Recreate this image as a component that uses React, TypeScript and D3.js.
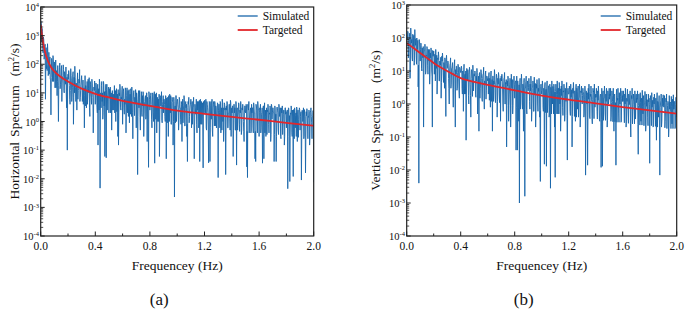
import React from "react";
import * as d3 from "d3";

// ---------- data ----------
const freqStep = 0.0025; // Hz, simulated spectra sampled at 0.0025, 0.0050, ... 2.0000 Hz

const simHorizontal = [
  3200, 2600, 600, 1800, 1400, 350, 250, 900, 700, 150, 180, 420, 500, 6, 90, 380, 70, 90, 60, 520, 250, 40, 50, 260, 45, 110, 180, 30, 30, 1.7, 35, 160, 140, 70, 25, 200, 150, 25, 60, 120,
  80, 15, 35, 140, 15, 60, 40, 8, 25, 90, 12, 1.0, 18, 45, 75, 110, 14, 20, 30, 70, 90, 5, 22, 38, 40, 95, 65, 12, 10, 55, 45, 30, 20, 80, 9, 3, 35, 0.1, 25, 45,
  30, 60, 45, 18, 6, 4, 12, 70, 40, 28, 5, 9, 15, 45, 55, 0.8, 7, 35, 10, 85, 35, 15, 5, 22, 18, 2.5, 25, 50, 6, 12, 14, 30, 22, 65, 5, 7, 12, 20, 28, 40,
  18, 5, 10, 28, 4, 12, 15, 0.6, 8, 40, 3.5, 18, 12, 3, 6, 25, 4, 9, 30, 14, 10, 34, 3, 1.5, 25, 20, 9, 7, 4, 30, 22, 11, 7, 0.4, 3.5, 16, 12, 26, 18, 4,
  12, 22, 16, 8, 3, 2, 20, 0.15, 9, 14, 2.5, 30, 22, 0.0047, 7, 10, 3, 18, 25, 5, 10, 1.2, 2, 25, 18, 3.5, 11, 0.06, 3, 12, 20, 0.054, 13, 20, 2.5, 7, 9, 15, 16, 2,
  14, 9, 7, 16, 2, 4, 10, 0.5, 5, 12, 2.5, 6, 9, 2.5, 4, 18, 2, 8, 12, 1, 6, 14, 2.2, 5, 9, 0.3, 13, 0.15, 2, 10, 8, 20, 15, 3, 2.5, 7, 6, 13, 17, 0.8,
  6, 11, 14, 3, 1.8, 6, 4, 15, 12, 0.4, 2, 8, 15, 2, 5, 12, 1.5, 5, 13, 0.9, 6, 9, 1.8, 14, 11, 1.5, 16, 6, 2, 0.25, 5, 10, 12, 4, 1.6, 7, 4, 13, 10, 0.6,
  10, 6, 5, 0.014, 1.5, 9, 12, 3, 7, 12, 1.4, 0.5, 4, 5, 11, 2, 1.5, 8, 3.5, 11, 9, 0.3, 1.3, 4, 5, 7, 8, 1.2, 1.5, 10, 10, 0.2, 7, 6, 1.2, 0.025, 11, 9, 6, 2.5,
  4, 8, 10, 4, 1.2, 0.6, 3, 10, 9, 2, 1, 6, 11, 0.035, 4, 9, 1.2, 3, 10, 0.4, 3, 7, 1, 5, 6, 1, 9, 0.06, 1.2, 8, 7, 3.5, 5, 11, 1.1, 0.9, 4, 5, 8, 2,
  6, 6, 4, 1.5, 1, 8, 7, 0.05, 6.5, 4, 0.9, 7, 6, 0.3, 8, 3, 1, 9, 6, 2, 8, 0.8, 0.8, 5, 7, 6, 4.5, 0.15, 1, 7, 5, 0.0023, 3, 3.5, 0.9, 8, 8, 1, 3.5, 5,
  6, 4, 3, 0.5, 0.9, 7, 6, 3, 3, 1.2, 0.8, 5, 4, 0.2, 2.5, 6, 0.9, 2.5, 3.5, 8, 6, 0.7, 0.7, 4, 5, 3, 4, 0.3, 0.8, 0.04, 3, 5, 4, 7, 0.9, 1.5, 2.5, 3.5, 4, 6,
  4, 0.6, 2.5, 5, 0.8, 3, 3.5, 7, 2, 0.05, 0.7, 4, 3, 1.8, 2.2, 6, 0.8, 0.4, 5, 2.5, 3, 5, 0.6, 1, 5.5, 0.04, 2.5, 6, 0.8, 3, 5, 0.8, 2.5, 4.5, 0.7, 0.024, 5, 3, 2, 5.5,
  4.5, 3, 2, 6, 0.6, 0.5, 5, 4, 3, 2, 0.7, 0.036, 2, 5, 4.5, 0.04, 0.6, 3.5, 5, 1.2, 2.5, 6, 0.5, 0.3, 3, 4, 5, 2.5, 0.7, 5, 4, 0.7, 3.5, 3, 0.6, 1.5, 2.5, 4.5, 4, 0.011,
  2.5, 4, 4, 2, 0.6, 5, 4.5, 0.4, 2, 3, 0.5, 6, 4.5, 1, 3, 0.2, 0.6, 4.5, 4, 2.5, 3, 0.014, 0.5, 3.5, 2.5, 5, 4, 0.6, 0.6, 2, 2, 4, 4, 1.3, 0.5, 5.5, 4.5, 0.3, 2.5, 3,
  2, 3.5, 3.5, 0.06, 0.5, 4, 4, 2, 3, 0.5, 0.5, 5, 4, 0.03, 2.5, 3, 0.5, 1.5, 2, 4.5, 4, 0.8, 0.45, 2.5, 2, 5, 3.5, 0.35, 0.5, 3, 2.5, 4, 3, 1, 0.45, 0.2, 2, 3.5, 3.5, 2,
  2.5, 4, 3.5, 0.026, 0.45, 0.011, 4, 3, 2.5, 5, 0.4, 1.2, 2, 2.5, 3, 0.4, 0.45, 4, 2, 3, 3, 0.7, 0.4, 4.5, 3.5, 2, 2, 0.05, 0.45, 0.04, 4, 3.5, 2.5, 1, 0.4, 5, 3.5, 2.5, 2.5, 0.3,
  2, 3, 2.5, 4, 0.4, 0.6, 1.8, 2, 3, 0.035, 0.35, 3.5, 3.5, 0.05, 2, 4.5, 0.4, 1.5, 2.5, 0.3, 1.8, 3, 0.35, 2.5, 2.2, 4, 3, 0.8, 0.4, 2, 1.8, 3.5, 3, 0.2, 0.35, 4, 3.5, 1.2, 2, 3,
  3, 2, 2, 0.04, 0.35, 3.5, 3, 1, 1.8, 0.04, 0.3, 3, 3.2, 2.5, 2, 0.5, 0.35, 4, 3, 1.5, 1.8, 3, 0.3, 0.25, 3, 2, 2, 3.5, 0.35, 0.8, 1.8, 2.5, 2.5, 0.15, 0.3, 3, 3, 1.8, 2.2, 0.6,
  1.8, 2.5, 2.5, 0.0045, 0.3, 3, 2.8, 1, 1.6, 0.008, 0.28, 2, 1.8, 3.5, 2.6, 0.4, 0.3, 2.5, 1.5, 0.012, 2.6, 1.5, 0.25, 3, 2.4, 0.6, 1.6, 2, 0.3, 3.2, 2.8, 0.2, 1.8, 2.5, 0.28, 1.2, 2, 3, 2.6, 0.5,
  1.5, 2, 2.2, 0.009, 0.28, 2.5, 2.4, 1, 1.4, 3, 0.25, 0.3, 2.6, 1.8, 1.5, 0.016, 0.28, 2.2, 1.6, 2.8, 2.3, 0.7, 0.25, 1.5, 1.4, 2.5, 2.2, 0.15, 0.28, 2, 2.4, 3, 1.5, 0.9, 0.25, 1.6, 1.7, 2.4, 2, 0.0075,
];

const simVertical = [
  120, 90, 160, 150, 25, 40, 80, 110, 140, 6, 20, 200, 110, 70, 90, 25, 20, 130, 60, 55, 120, 15, 18, 180, 75, 60, 95, 30, 16, 100, 55, 45, 85, 3.3, 15, 0.004, 90, 80, 50, 20,
  45, 70, 60, 12, 10, 50, 30, 25, 55, 0.2, 9, 40, 40, 65, 50, 8, 10, 30, 28, 55, 48, 15, 8, 45, 35, 20, 45, 4, 8, 35, 25, 50, 40, 10, 7, 0.2, 42, 28, 30, 40,
  25, 8, 32, 30, 5, 45, 18, 12, 30, 2, 5, 25, 22, 38, 28, 5, 5, 20, 16, 15, 26, 1.5, 4.5, 28, 20, 35, 24, 9, 4.5, 18, 15, 3, 25, 22, 4, 0.42, 22, 30, 17, 12,
  13, 20, 18, 6, 3, 1, 10, 15, 17, 25, 3, 4, 12, 12, 15, 18, 3, 0.8, 9, 10, 16, 22, 2.8, 0.2, 11, 8, 14, 14, 2.6, 3, 9, 16, 15, 6, 2.5, 1.5, 13, 12, 10, 9,
  9, 14, 12, 3, 2, 10, 7, 0.6, 11, 16, 2, 7, 8, 2, 10, 0.08, 2, 12, 6, 5, 11, 9, 1.8, 1, 8, 13, 10, 4, 1.8, 0.4, 6, 11, 10, 6, 1.7, 15, 9, 2.5, 7, 8,
  7, 10, 9, 2, 1.6, 7, 5, 12, 9, 0.5, 1.5, 5, 7, 0.15, 8, 9, 1.5, 3, 5, 11, 9, 6, 1.4, 1.2, 6, 8, 8, 13, 1.5, 0.7, 5, 4, 8, 10, 1.4, 2.5, 7, 7, 6, 5,
  6, 2, 7.5, 9, 1.3, 6, 4.5, 0.8, 7, 10, 1.2, 3, 5.5, 0.15, 7, 7, 1.2, 5, 4, 11, 7.5, 1.5, 1.1, 4, 5, 8, 6.5, 0.4, 1.2, 6, 4, 9, 7, 2, 1.1, 5, 6, 0.3, 5, 7,
  5, 8, 6, 3, 1, 0.6, 3.5, 6, 6, 9, 1, 1, 4.5, 4, 5.5, 0.05, 0.9, 5, 3.5, 7, 6, 0.3, 0.9, 2, 4, 6, 5.5, 0.2, 0.9, 8, 3.5, 3, 5.5, 0.5, 0.9, 5, 5, 7, 4, 1.5,
  4, 5, 5, 0.04, 0.8, 7, 3, 0.04, 5, 3, 0.8, 0.3, 3.8, 0.001, 4.5, 6, 0.7, 2, 3, 8, 5, 1, 0.7, 4, 3.5, 0.15, 4.5, 6, 0.7, 0.0016, 3, 3, 4.8, 7, 0.7, 0.5, 4, 5, 3.2, 2.5,
  3.2, 6, 4.2, 1.2, 0.7, 4, 2.5, 7, 4.2, 0.3, 0.6, 3, 3.2, 5, 3.8, 0.6, 0.6, 6.5, 2.5, 2, 4.2, 0.2, 0.6, 4, 3, 5.5, 3.8, 1, 0.6, 3, 2.4, 6, 4, 0.4, 0.6, 0.0045, 3.4, 4, 2.6, 2,
  2.8, 5, 3.6, 0.8, 0.6, 3, 2.2, 0.015, 3.5, 4.5, 0.55, 2, 2.8, 0.013, 3.3, 5, 0.55, 1.5, 2.1, 3.5, 3.6, 0.4, 0.5, 4, 2.6, 0.0028, 3.2, 2.5, 0.5, 5, 2, 1, 3.4, 3, 0.5, 4, 2.9, 0.2, 2.3, 0.006,
  2.4, 4, 3.1, 2, 0.5, 5, 1.9, 0.5, 3, 3, 0.5, 4.5, 2.4, 1, 2.9, 0.15, 0.48, 3.5, 1.8, 5, 3.1, 0.8, 0.45, 2.5, 2.3, 4, 2.8, 0.3, 0.45, 3, 1.8, 1.2, 3, 4.5, 0.45, 0.02, 2.5, 3, 2, 2,
  2.1, 3.5, 2.7, 0.6, 0.45, 4, 1.6, 2, 2.7, 0.05, 0.42, 3, 2.1, 4.5, 2.5, 1, 0.42, 2.5, 1.6, 0.3, 2.7, 4, 0.4, 3, 2, 0.7, 2.4, 3.5, 0.4, 1.5, 1.6, 4, 2.6, 0.2, 0.4, 2.5, 2.2, 3.5, 1.8, 1,
  1.8, 3, 2.4, 2, 0.4, 0.5, 1.4, 3.5, 2.4, 0.007, 0.38, 2.5, 1.8, 1, 2.2, 0.014, 0.38, 3, 1.4, 4, 2.4, 0.4, 0.36, 2, 1.7, 3.5, 2.1, 1.2, 0.36, 0.25, 1.4, 3, 2.3, 2.5, 0.36, 4, 1.9, 0.8, 1.5, 2,
  1.6, 3, 2.1, 0.6, 0.35, 2.5, 1.3, 3.5, 2.1, 1, 0.33, 0.3, 1.6, 2, 1.9, 0.012, 0.33, 3, 1.2, 0.013, 2.1, 2.5, 0.32, 1.5, 1.5, 3.5, 1.9, 0.5, 0.32, 2, 1.2, 3, 2, 0.2, 0.32, 2.5, 1.7, 1, 1.4, 3,
  1.4, 2, 1.8, 3, 0.3, 0.4, 1.1, 2.5, 1.8, 1.2, 0.29, 3, 1.4, 0.15, 1.7, 2, 0.29, 0.8, 1.1, 0.014, 1.8, 2.8, 0.28, 1.5, 1.3, 3, 1.6, 0.5, 0.28, 2.2, 1.1, 1, 1.7, 3, 0.28, 0.3, 1.5, 2.5, 1.2, 1.8,
  1.2, 2.5, 1.6, 0.7, 0.27, 2, 1, 3, 1.6, 0.2, 0.26, 1.5, 1.2, 2.8, 1.5, 0.5, 0.26, 2, 0.95, 1, 1.6, 2.5, 0.25, 0.1, 1.15, 1.8, 1.45, 3, 0.25, 0.6, 0.95, 2, 1.5, 1.2, 0.25, 2.5, 1.3, 0.35, 1.05, 2,
  1.1, 1.5, 1.4, 2.5, 0.24, 0.03, 0.9, 2, 1.4, 0.8, 0.23, 2.2, 1.1, 0.3, 1.3, 1.5, 0.23, 2.6, 0.85, 0.5, 1.4, 1.8, 0.22, 1, 1, 2.4, 1.3, 0.15, 0.22, 2, 0.85, 1.2, 1.35, 0.4, 0.22, 2, 1.15, 1.5, 0.95, 0.016,
  1, 1.8, 1.3, 0.5, 0.22, 2.2, 0.8, 1, 1.3, 0.2, 0.21, 1.6, 1, 2, 1.2, 0.6, 0.21, 1.5, 0.78, 0.08, 1.3, 2.2, 0.2, 1.2, 0.95, 0.4, 1.2, 1.8, 0.2, 0.007, 0.78, 1, 1.25, 2, 0.2, 0.3, 1.05, 1.5, 0.85, 1.9,
  0.9, 0.8, 1.15, 1.8, 0.19, 0.3, 0.7, 1.5, 1.15, 2, 0.18, 0.5, 0.9, 1.2, 1.1, 0.1, 0.18, 1.8, 0.7, 1, 1.15, 0.6, 0.18, 1.7, 0.85, 0.25, 1.05, 1.4, 0.18, 1.9, 0.7, 0.7, 1.1, 1.2, 0.18, 0.2, 0.95, 1.6, 0.75, 0.4,
];

const targetFreqH = [0, 0.01, 0.02, 0.03, 0.05, 0.075, 0.1, 0.15, 0.2, 0.3, 0.4, 0.5, 0.6, 0.7, 0.8, 0.9, 1.0, 1.2, 1.4, 1.6, 1.8, 2.0];
const targetH = [2400, 1000, 500, 290, 140, 80, 56, 35, 25, 14, 9.3, 6.9, 5.3, 4.3, 3.5, 2.9, 2.4, 1.85, 1.45, 1.15, 0.9, 0.71];

const targetFreqV = [0, 0.05, 0.1, 0.15, 0.2, 0.3, 0.4, 0.5, 0.6, 0.8, 1.0, 1.2, 1.4, 1.6, 1.8, 2.0];
const targetV = [70, 50, 35, 25, 17.5, 10, 6.1, 4.7, 3.8, 2.6, 1.8, 1.35, 1.05, 0.81, 0.64, 0.51];

const xTickValues = [0, 0.4, 0.8, 1.2, 1.6, 2.0];
const xMinorValues = [0.2, 0.6, 1.0, 1.4, 1.8];
const yExpH = [-4, -3, -2, -1, 0, 1, 2, 3, 4];
const yExpV = [-4, -3, -2, -1, 0, 1, 2, 3];

const seriesNames = ["Simulated", "Targeted"];
const panelLabels = ["(a)", "(b)"];
const yTitles = ["Horizontal", "Vertical"];

const BLUE = "#1a67aa";
const RED = "#e3262b";
const FONT = "'Liberation Serif', 'Times New Roman', Times, serif";

type PanelProps = {
  id: string;
  x0: number;
  x1: number;
  y0: number;
  y1: number;
  sim: number[];
  tFreq: number[];
  tVal: number[];
  exps: number[];
  yTitle: string;
  titleX: number;
  label: string;
};

function Panel(p: PanelProps) {
  const x = d3.scaleLinear().domain([0, 2]).range([p.x0, p.x1]);
  const minE = p.exps[0];
  const maxE = p.exps[p.exps.length - 1];
  const y = d3.scaleLog().domain([Math.pow(10, minE), Math.pow(10, maxE)]).range([p.y1, p.y0]);

  const simLine = d3
    .line<number>()
    .x((_, i) => x((i + 1) * freqStep))
    .y((v) => y(v));
  const tgtLine = d3
    .line<number>()
    .x((_, i) => x(p.tFreq[i]))
    .y((v) => y(v))
    .curve(d3.curveMonotoneX);

  const minor: number[] = [];
  for (let e = minE; e < maxE; e++) {
    for (let m = 2; m <= 9; m++) minor.push(m * Math.pow(10, e));
  }

  const cx = (p.x0 + p.x1) / 2;
  const cy = (p.y0 + p.y1) / 2;
  const lx = p.x1 - 76;

  return (
    <g style={{ fontFamily: FONT }}>
      <defs>
        <clipPath id={p.id}>
          <rect x={p.x0} y={p.y0} width={p.x1 - p.x0} height={p.y1 - p.y0} />
        </clipPath>
      </defs>
      <g clipPath={`url(#${p.id})`}>
        <path d={simLine(p.sim) || ""} fill="none" stroke={BLUE} strokeWidth={0.9} strokeLinejoin="round" />
        <path d={tgtLine(p.tVal) || ""} fill="none" stroke={RED} strokeWidth={1.8} />
      </g>
      <rect x={p.x0} y={p.y0} width={p.x1 - p.x0} height={p.y1 - p.y0} fill="none" stroke="#222" strokeWidth={1.2} />
      {/* y ticks */}
      {p.exps.map((e) => (
        <g key={"ye" + e}>
          <line x1={p.x0} x2={p.x0 + 4} y1={y(Math.pow(10, e))} y2={y(Math.pow(10, e))} stroke="#222" strokeWidth={1} />
          <text x={p.x0 - 1.8} y={y(Math.pow(10, e)) + 4} textAnchor="end" fontSize={10.5} fill="#111">
            10
            <tspan dy={-3.8} fontSize={6.5}>{e}</tspan>
          </text>
        </g>
      ))}
      {minor.map((v, i) => (
        <line key={"ym" + i} x1={p.x0} x2={p.x0 + 2.5} y1={y(v)} y2={y(v)} stroke="#222" strokeWidth={0.8} />
      ))}
      {/* x ticks */}
      {xTickValues.map((v) => (
        <g key={"xt" + v}>
          <line x1={x(v)} x2={x(v)} y1={p.y1} y2={p.y1 - 4.5} stroke="#222" strokeWidth={1} />
          <text x={x(v)} y={p.y1 + 14} textAnchor="middle" fontSize={11.5} fill="#111">
            {v.toFixed(1)}
          </text>
        </g>
      ))}
      {xMinorValues.map((v) => (
        <line key={"xm" + v} x1={x(v)} x2={x(v)} y1={p.y1} y2={p.y1 - 2.5} stroke="#222" strokeWidth={1} />
      ))}
      {/* axis titles */}
      <text x={cx} y={p.y1 + 34} textAnchor="middle" fontSize={13.5} fill="#111">
        Frequencey (Hz)
      </text>
      <text
        transform={`translate(${p.titleX},${cy}) rotate(-90)`}
        textAnchor="middle"
        fontSize={13.5}
        fill="#111"
      >
        {p.yTitle}
        <tspan dx={5}>Spectrum</tspan>
        <tspan dx={9}>(m</tspan>
        <tspan dy={-5} fontSize={8.5}>2</tspan>
        <tspan dy={5}>/s)</tspan>
      </text>
      {/* legend */}
      <line x1={lx} x2={lx + 20} y1={16} y2={16} stroke={BLUE} strokeWidth={1.3} />
      <text x={lx + 25} y={20} fontSize={11.5} fill="#111">{seriesNames[0]}</text>
      <line x1={lx} x2={lx + 20} y1={30} y2={30} stroke={RED} strokeWidth={1.8} />
      <text x={lx + 25} y={34} fontSize={11.5} fill="#111">{seriesNames[1]}</text>
      {/* panel label */}
      <text x={cx - 18} y={305} textAnchor="middle" fontSize={17} fill="#111">
        {p.label}
      </text>
    </g>
  );
}

export default function App() {
  return (
    <svg
      width={685}
      height={318}
      style={{ position: "absolute", left: 0, top: 0, background: "#fff" }}
      viewBox="0 0 685 318"
    >
      <rect x={0} y={0} width={685} height={318} fill="#fff" />
      <Panel
        id="clipA"
        x0={40.7}
        x1={313.7}
        y0={7}
        y1={236}
        sim={simHorizontal}
        tFreq={targetFreqH}
        tVal={targetH}
        exps={yExpH}
        yTitle={yTitles[0]}
        titleX={19}
        label={panelLabels[0]}
      />
      <Panel
        id="clipB"
        x0={406.7}
        x1={676.7}
        y0={5}
        y1={236}
        sim={simVertical}
        tFreq={targetFreqV}
        tVal={targetV}
        exps={yExpV}
        yTitle={yTitles[1]}
        titleX={380}
        label={panelLabels[1]}
      />
    </svg>
  );
}
